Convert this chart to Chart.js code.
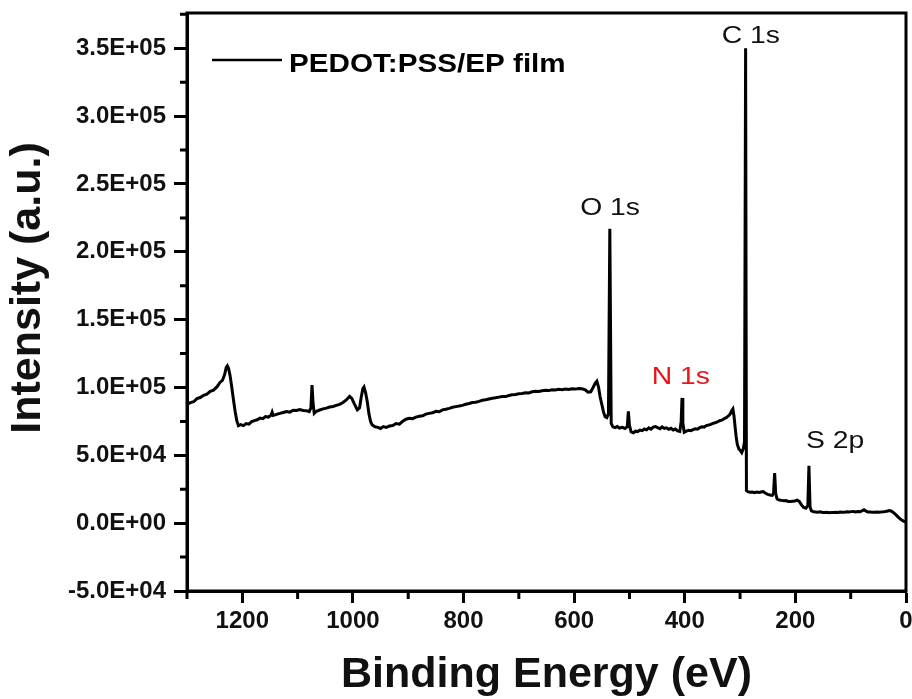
<!DOCTYPE html>
<html>
<head>
<meta charset="utf-8">
<title>XPS survey</title>
<script src="https://cdn.jsdelivr.net/npm/chart.js@4.4.1/dist/chart.umd.min.js"></script>
<style>
  html, body { margin: 0; padding: 0; background: #fff; }
  #wrap { width: 912px; height: 699px; }
</style>
</head>
<body>
<div id="wrap"><canvas id="xps"></canvas></div>
<script>
/* XPS survey spectrum of the PEDOT:PSS/EP film. */
var SERIES_LABEL = "PEDOT:PSS/EP film";

// binding energy (eV), high to low
var ENERGY = [
  1300, 1294, 1288, 1282, 1276, 1270, 1264, 1258, 1252, 1246, 1240, 1236, 1232, 1229, 1227, 1225,
  1222, 1219, 1216, 1213, 1210, 1207, 1203, 1198, 1193, 1188, 1183, 1178, 1173, 1168, 1163, 1158,
  1153, 1148, 1146, 1144, 1138, 1132, 1126, 1120, 1114, 1108, 1102, 1096, 1090, 1084, 1079, 1076,
  1074, 1072, 1070, 1066, 1060, 1054, 1048, 1042, 1036, 1030, 1024, 1018, 1012, 1006, 1002, 997,
  992, 988, 985, 982, 980, 977, 974, 971, 968, 965, 960, 955, 950, 945, 940, 934,
  928, 922, 916, 910, 904, 898, 892, 886, 880, 874, 868, 862, 856, 850, 844, 838,
  832, 826, 820, 814, 808, 802, 796, 790, 784, 778, 772, 766, 760, 754, 748, 742,
  736, 730, 724, 718, 712, 706, 700, 694, 688, 682, 676, 670, 664, 658, 652, 646,
  640, 634, 628, 622, 616, 610, 604, 598, 592, 586, 580, 575, 570, 566, 562, 559,
  556, 553, 550, 547, 544, 541, 538, 535.5, 533, 530, 526, 522, 518, 513, 508, 504,
  502, 500, 497, 493, 489, 485, 481, 477, 473, 469, 465, 461, 457, 453, 449, 445,
  441, 437, 433, 429, 425, 421, 417, 413, 409, 406.5, 405, 403.5, 401, 397, 393, 389,
  385, 381, 377, 373, 369, 365, 361, 357, 353, 349, 345, 341, 337, 333, 329, 325,
  321, 318, 315, 313, 311, 309, 307, 305, 302, 300, 297, 294, 292, 290, 288.5, 286,
  282, 278, 274, 270, 266, 262, 258, 254, 250, 246, 242, 239.5, 237.5, 235.5, 233, 229,
  225, 221, 217, 213, 209, 205, 201, 197, 193, 189, 185, 181, 177.5, 175.5, 173.5, 171,
  167, 163, 159, 155, 151, 147, 143, 139, 135, 131, 127, 123, 119, 115, 111, 107,
  103, 99, 95, 91, 87, 83, 79, 76, 73, 69, 65, 61, 57, 53, 49, 45,
  41, 37, 33, 30, 26, 22, 18, 14, 10, 6, 2, 0
];

// counts
var INTENSITY = [
  87500, 88800, 89500, 91800, 92600, 94200, 95000, 97100, 98000, 100400, 103900, 105200, 109500, 114800, 116000, 114200,
  108500, 100000, 91000, 82500, 75500, 71800, 72600, 71900, 73400, 73000, 74800, 75600, 76200, 77400, 77000, 78600,
  78200, 79500, 81800, 79400, 80200, 80900, 81600, 82300, 81800, 83200, 83000, 83800, 83100, 82900, 82200, 85000,
  101800, 88000, 80900, 82500, 83400, 84200, 84800, 85600, 86000, 86800, 87600, 88900, 90800, 93400, 92000, 87600,
  83500, 85000, 92800, 99200, 100400, 96000, 89500, 80500, 74800, 72300, 71000, 70600, 69800, 71200, 70500, 71600,
  72000, 73400, 73000, 75100, 76600, 77300, 77000, 78200, 78800, 79100, 80400, 80900, 81300, 82400, 82100, 83500,
  84000, 84600, 85400, 85900, 86300, 86800, 87600, 88200, 88900, 89100, 89800, 90600, 90900, 91500, 92100, 92400,
  92900, 93400, 93300, 94100, 94600, 94900, 95400, 95600, 96100, 96000, 96800, 97200, 97000, 97600, 97900, 97700,
  98300, 98100, 98600, 98400, 98900, 98500, 99000, 98800, 99300, 99000, 98200, 96500, 96800, 99800, 103000, 104600,
  100500, 93000, 87500, 82000, 78500, 77800, 80500, 217000, 73500, 71000, 70400, 71200, 70100, 70600, 69800, 71000,
  82400, 72000, 67200, 66600, 67800, 67500, 68600, 68200, 69400, 68800, 70200, 69300, 70800, 71200, 70400, 69600,
  70900, 69800, 70300, 69200, 69900, 68700, 69400, 68000, 67600, 75000, 92300, 74000, 67000, 67800, 68500, 68200,
  69000, 69600, 69300, 70400, 71000, 70800, 71900, 72300, 72800, 73600, 74000, 74600, 75500, 75900, 77000, 77800,
  79000, 80400, 83000, 84200, 79000, 71000, 63500, 58000, 54600, 53800, 52000, 55000, 60000, 350000, 24000, 23200,
  22800, 22900, 22500, 22900, 22600, 23000, 23300, 22000, 21200, 20800, 20500, 22000, 37000, 21500, 17800, 17000,
  16800, 16500, 16600, 16000, 15900, 16200, 16400, 16900, 16000, 13500, 11500, 11000, 13000, 42300, 12000, 9000,
  8400, 8200, 8000, 8300, 7900, 7800, 8100, 7700, 7900, 7800, 8000, 7900, 8200, 8000, 8100, 8400,
  8200, 8500, 8600, 8300, 8500, 8400, 9200, 9900, 9000, 8300, 8200, 8000, 8100, 8200, 8000, 8300,
  8400, 8600, 9000, 9300, 8800, 7600, 6100, 4500, 3000, 1800, 1000, 800
];

// labelled axis ticks
var X_TICKS = [0, 200, 400, 600, 800, 1000, 1200];
var Y_TICKS = [-50000, 0, 50000, 100000, 150000, 200000, 250000, 300000, 350000];

// peak assignments: label centre (eV) and baseline (counts)
var PEAK_NAMES = ["C 1s", "O 1s", "N 1s", "S 2p"];
var PEAK_LABEL_E = [280.5, 535, 407, 128];
var PEAK_LABEL_I = [354000, 227000, 102800, 55200];
var PEAK_COLORS = ["#111", "#111", "#e8141c", "#111"];

var X_MIN = 0, X_MAX = 1300, X_STEP = 200;
var Y_MIN = -50000, Y_MAX = 376000, Y_STEP = 50000;

var FONT = "'Liberation Sans', Arial, Helvetica, sans-serif";
var Y_TITLE = "Intensity (a.u.)";

function sci(v) {
  if (v === 0) return "0.0E+00";
  var exp = Math.floor(Math.log10(Math.abs(v)) + 1e-9);
  var m = (v / Math.pow(10, exp)).toFixed(1);
  return m + "E" + (exp < 0 ? "-" : "+") + (Math.abs(exp) < 10 ? "0" : "") + Math.abs(exp);
}

function fixedTicks(list) {
  return function (scale) {
    scale.ticks = list.map(function (v) { return { value: v }; });
  };
}

// closed frame plus the short half-step ticks
var frame = {
  id: "frame",
  afterDatasetsDraw: function (chart) {
    var ctx = chart.ctx, a = chart.chartArea, xs = chart.scales.x, ys = chart.scales.y;
    ctx.save();
    ctx.strokeStyle = "#000";
    ctx.lineWidth = 3;
    ctx.strokeRect(a.left, a.top, a.right - a.left, a.bottom - a.top);
    ctx.beginPath();
    for (var e = X_STEP / 2; e <= X_MAX; e += X_STEP) {
      var px = xs.getPixelForValue(e);
      ctx.moveTo(px, a.bottom);
      ctx.lineTo(px, a.bottom + 8);
    }
    for (var v = Y_MIN + Y_STEP / 2; v < Y_MAX; v += Y_STEP) {
      var py = ys.getPixelForValue(v);
      ctx.moveTo(a.left, py);
      ctx.lineTo(a.left - 7, py);
    }
    ctx.stroke();
    ctx.restore();
  }
};

// y title drawn by hand so it can sit a little above the axis centre
var yTitle = {
  id: "yTitle",
  afterDraw: function (chart) {
    var ctx = chart.ctx, a = chart.chartArea;
    ctx.save();
    ctx.translate(28, (a.top + a.bottom) / 2 - 14);
    ctx.rotate(-Math.PI / 2);
    ctx.font = "bold 43px " + FONT;
    ctx.fillStyle = "#111";
    ctx.textAlign = "center";
    ctx.textBaseline = "middle";
    ctx.fillText(Y_TITLE, 0, 0);
    ctx.restore();
  }
};

var peakLabels = {
  id: "peakLabels",
  afterDatasetsDraw: function (chart) {
    var ctx = chart.ctx, xs = chart.scales.x, ys = chart.scales.y;
    ctx.save();
    ctx.font = "24px " + FONT;
    ctx.textAlign = "center";
    ctx.textBaseline = "alphabetic";
    PEAK_NAMES.forEach(function (name, i) {
      ctx.save();
      ctx.translate(xs.getPixelForValue(PEAK_LABEL_E[i]), ys.getPixelForValue(PEAK_LABEL_I[i]));
      ctx.scale(1.18, 1);
      ctx.fillStyle = PEAK_COLORS[i];
      ctx.fillText(name, 0, 0);
      ctx.restore();
    });
    ctx.restore();
  }
};

// legend sits inside the plot, top left
var insideLegend = {
  id: "insideLegend",
  afterDatasetsDraw: function (chart) {
    var ctx = chart.ctx, a = chart.chartArea;
    var ds = chart.data.datasets[0];
    var x0 = a.left + 25, y0 = a.top + 47;
    ctx.save();
    ctx.strokeStyle = ds.borderColor;
    ctx.lineWidth = 2.5;
    ctx.beginPath();
    ctx.moveTo(x0, y0);
    ctx.lineTo(x0 + 70, y0);
    ctx.stroke();
    ctx.translate(x0 + 77, y0 + 12);
    ctx.scale(1.14, 1);
    ctx.font = "bold 26px " + FONT;
    ctx.fillStyle = "#000";
    ctx.textBaseline = "alphabetic";
    ctx.fillText(ds.label, 0, 0);
    ctx.restore();
  }
};

var points = ENERGY.map(function (e, i) { return { x: e, y: INTENSITY[i] }; });

new Chart(document.getElementById("xps"), {
  type: "line",
  data: {
    datasets: [{
      label: SERIES_LABEL,
      data: points,
      borderColor: "#000",
      borderWidth: 3,
      pointRadius: 0,
      tension: 0,
      fill: false
    }]
  },
  options: {
    responsive: true,
    maintainAspectRatio: false,
    animation: false,
    events: [],
    layout: { autoPadding: false, padding: { top: 13, right: 6, left: 0, bottom: 0 } },
    plugins: { legend: { display: false }, tooltip: { enabled: false } },
    scales: {
      x: {
        type: "linear",
        reverse: true,
        min: X_MIN,
        max: X_MAX,
        afterBuildTicks: fixedTicks(X_TICKS),
        afterFit: function (s) { s.height = 108; s.paddingLeft = 0; s.paddingRight = 0; },
        grid: { display: true, drawOnChartArea: false, drawTicks: true, tickLength: 12, tickWidth: 3, tickColor: "#000" },
        border: { display: true, width: 3, color: "#000" },
        ticks: {
          maxRotation: 0,
          autoSkip: false,
          padding: 4,
          color: "#111",
          font: { family: FONT, size: 24, weight: "bold" },
          callback: function (v) { return String(v); }
        },
        title: {
          display: true,
          text: "Binding Energy (eV)",
          color: "#111",
          font: { family: FONT, size: 43, weight: "bold", lineHeight: 1 },
          padding: { top: 0, bottom: 2 }
        }
      },
      y: {
        type: "linear",
        min: Y_MIN,
        max: Y_MAX,
        afterBuildTicks: fixedTicks(Y_TICKS),
        afterFit: function (s) { s.width = 187; s.paddingTop = 0; s.paddingBottom = 0; },
        grid: { display: true, drawOnChartArea: false, drawTicks: true, tickLength: 13, tickWidth: 3, tickColor: "#000" },
        border: { display: true, width: 3, color: "#000" },
        ticks: {
          autoSkip: false,
          padding: 8,
          color: "#111",
          font: { family: FONT, size: 24, weight: "bold" },
          callback: function (v) { return sci(v); }
        }
      }
    }
  },
  plugins: [frame, yTitle, peakLabels, insideLegend]
});
</script>
</body>
</html>
